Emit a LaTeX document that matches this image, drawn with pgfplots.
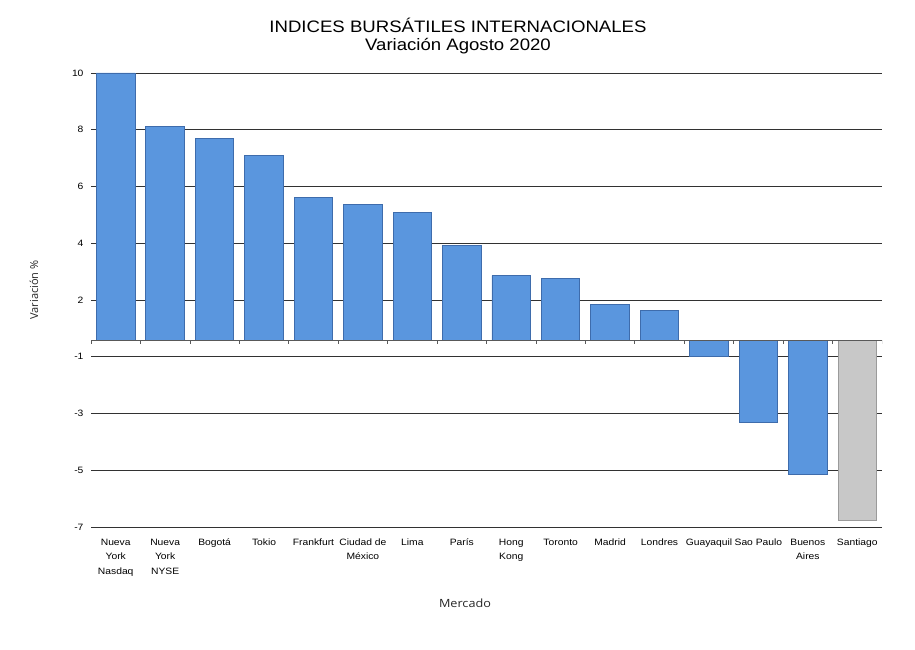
\documentclass[border=0pt]{standalone}
\usepackage{pgfplots}
\pgfplotsset{compat=1.18}
\usepackage{fontspec}
\setmainfont{Liberation Sans}[FakeStretch=1.12]
\newfontfamily\labfont{Open Sans}
\newfontfamily\labfontx{Open Sans}[FakeStretch=1.12]
\definecolor{barblue}{RGB}{90,150,222}
\definecolor{barblueedge}{RGB}{62,108,172}
\definecolor{bargray}{RGB}{200,200,200}
\definecolor{bargrayedge}{RGB}{155,155,155}
\definecolor{gridc}{RGB}{50,50,50}
\begin{document}
\begin{tikzpicture}[x=1pt,y=1pt]
\path[use as bounding box] (0,0) rectangle (915,649);
\begin{axis}[
  at={(91pt,122pt)}, anchor=south west,
  scale only axis, width=791pt, height=454pt,
  xmin=-0.5, xmax=15.5, ymin=-7, ymax=10,
  axis line style={draw=none},
  tick pos=left,
  xtick={0,...,15},
  xticklabels={Nueva\\York\\Nasdaq, Nueva\\York\\NYSE, Bogotá, Tokio, Frankfurt, Ciudad de\\México, Lima, París, Hong\\Kong, Toronto, Madrid, Londres, Guayaquil, Sao Paulo, Buenos\\Aires, Santiago},
  xtick style={draw=none},
  xticklabel style={align=center, anchor=north, font=\fontsize{9.2}{14.5}\selectfont, yshift=-4pt},
  ytick={10,7.875,5.75,3.625,1.5,-0.625,-2.75,-4.875,-7},
  yticklabels={10,8,6,4,2,-1,-3,-5,-7},
  yticklabel style={font=\fontsize{9.2}{11}\selectfont, xshift=-4pt},
  /pgf/number format/assume math mode=true,
  ytick style={draw=none},
  ymajorgrids, grid style={draw=gridc, line width=0.8pt},
  ybar, bar width=38.5pt,
]
\addplot[bar shift=0pt, fill=barblue, draw=barblueedge, line width=0.9pt] coordinates {
(0,10) (1,7.99) (2,7.55) (3,6.92) (4,5.35) (5,5.07) (6,4.77) (7,3.53)
(8,2.41) (9,2.30) (10,1.32) (11,1.10) (12,-0.60) (13,-3.08) (14,-5.03)};
\addplot[bar shift=0pt, fill=bargray, draw=bargrayedge, line width=0.9pt] coordinates {(15,-6.75)};
\draw[color=gray!70!black, line width=0.9pt] (axis cs:-0.5,0) -- (axis cs:15.5,0);
\pgfplotsinvokeforeach{0,...,16}{
  \draw[color=gray!70!black, line width=0.7pt] (axis cs:#1-0.5,0) -- ([yshift=-4pt]axis cs:#1-0.5,0);
}
\end{axis}
\node[anchor=base, font=\fontsize{16.6}{19}\selectfont] at (458,616) {INDICES BURSÁTILES INTERNACIONALES};
\node[anchor=base, font=\fontsize{16.6}{19}\selectfont] at (458,598.5) {Variación Agosto 2020};
\node[rotate=90, font=\labfont\fontsize{11}{13}\selectfont, text=black!85] at (34,359) {Variación \%};
\node[font=\labfontx\fontsize{11.3}{13}\selectfont, text=black!85] at (465,46) {Mercado};
\end{tikzpicture}
\end{document}
